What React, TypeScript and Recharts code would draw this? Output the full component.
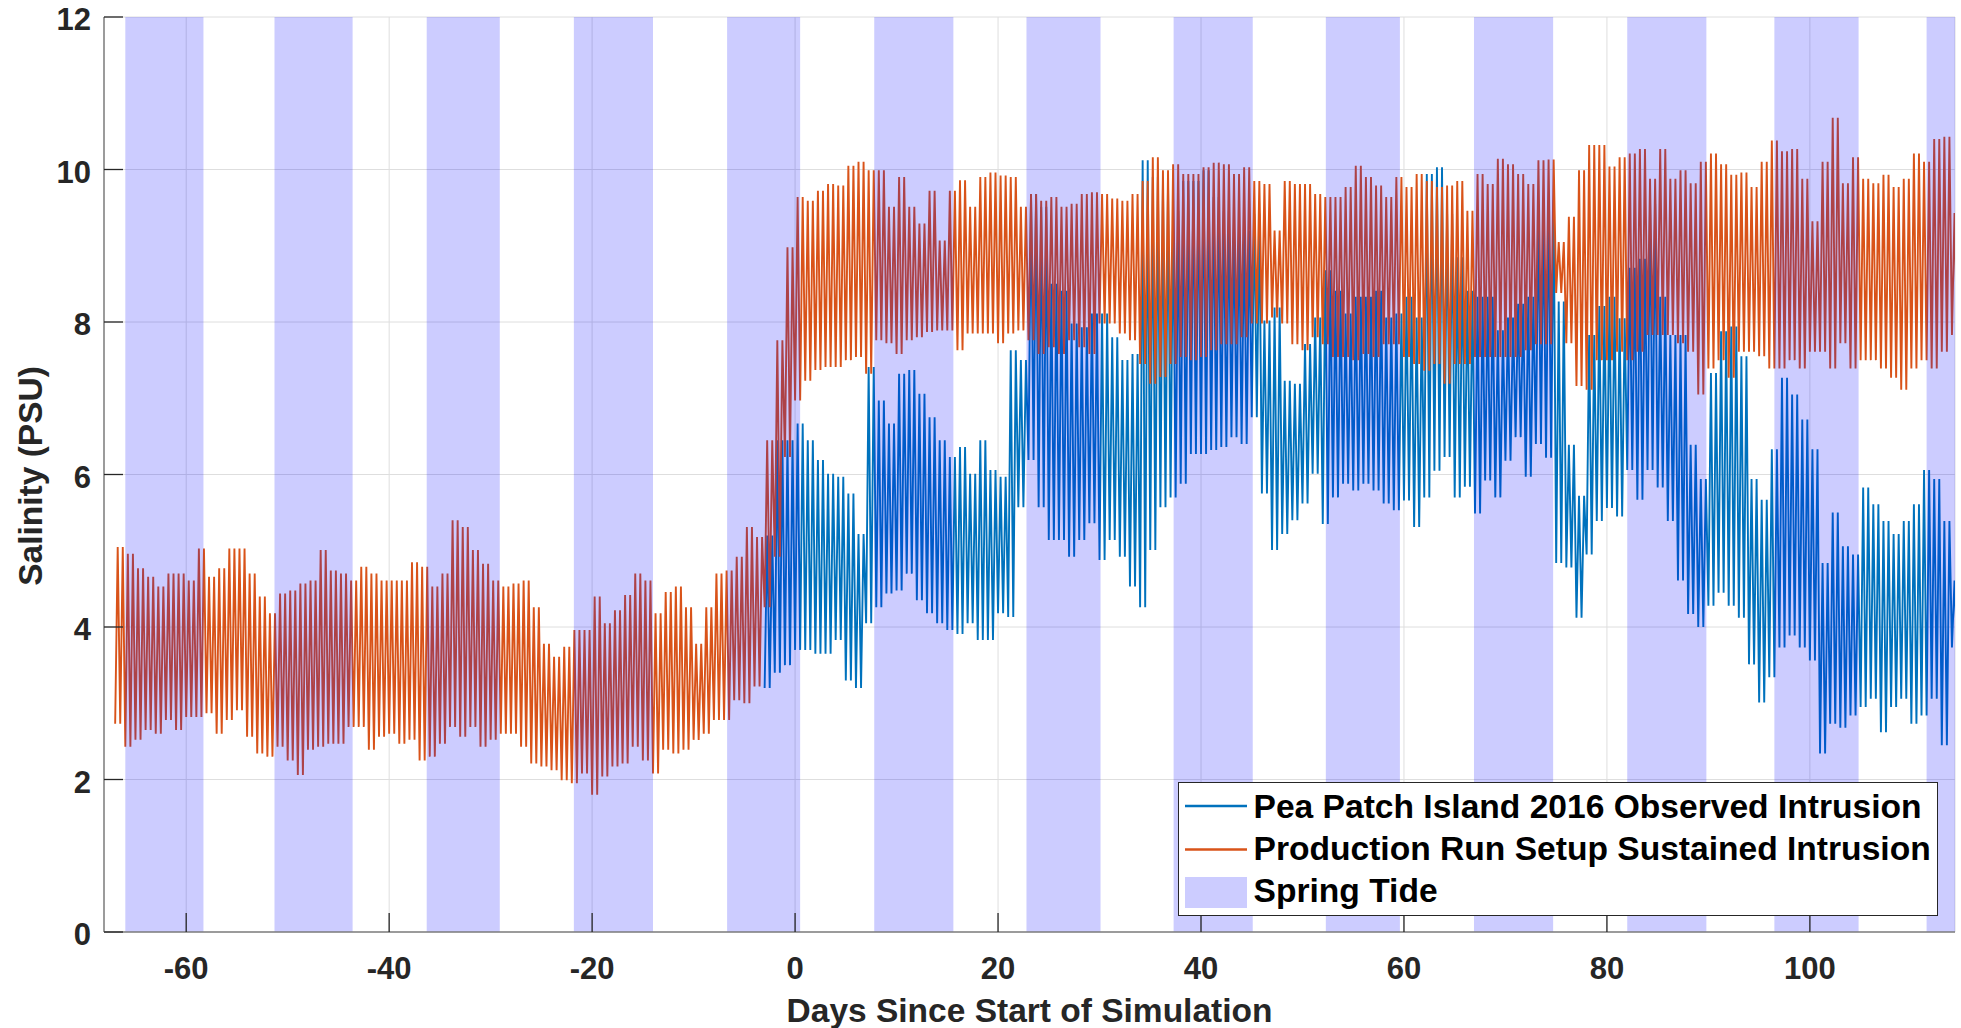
import React from 'react';
import { LineChart, Line, XAxis, YAxis, CartesianGrid, ReferenceArea, Label } from 'recharts';

const FONT = '"Liberation Sans", Arial, Helvetica, sans-serif';

// days since start of simulation, one high / one low per day
const orangeStart = -67;
const orangeHigh = [
  5.05, 4.96, 4.77, 4.66, 4.53, 4.7, 4.7, 4.61, 5.03, 4.66, 4.77, 5.03, 5.03, 4.7, 4.4, 4.18, 4.44, 4.48, 4.57, 4.61,
  5.01, 4.74, 4.7, 4.61, 4.79, 4.7, 4.61, 4.61, 4.61, 4.85, 4.79, 4.53, 4.7, 5.4, 5.31, 5.01, 4.83, 4.61, 4.53, 4.57,
  4.61, 4.26, 3.78, 3.61, 3.74, 3.96, 3.96, 4.4, 4.05, 4.22, 4.42, 4.7, 4.61, 4.18, 4.46, 4.53, 4.26, 3.78, 4.26, 4.7,
  4.74, 4.92, 5.31, 5.18, 6.45, 7.76, 8.98, 9.64, 9.59, 9.72, 9.81, 9.79, 10.05, 10.1, 9.99, 9.99, 9.51, 9.9, 9.51, 9.29,
  9.72, 9.07, 9.72, 9.86, 9.51, 9.9, 9.96, 9.92, 9.9, 9.51, 9.68, 9.59, 9.64, 9.51, 9.55, 9.68, 9.7, 9.68, 9.62, 9.59,
  9.68, 9.85, 10.16, 9.99, 10.07, 9.94, 9.94, 10.03, 10.09, 10.07, 9.94, 10.03, 9.85, 9.81, 9.2, 9.85, 9.81, 9.81, 9.68, 9.64,
  9.64, 9.77, 10.05, 9.9, 9.79, 9.64, 9.9, 9.77, 9.94, 9.85, 9.77, 9.79, 9.85, 9.46, 9.94, 9.81, 10.14, 10.07, 9.94, 9.81,
  10.12, 10.13, 9.05, 9.38, 9.99, 10.32, 10.32, 10.04, 10.16, 10.21, 10.27, 9.88, 10.27, 9.88, 9.99, 9.82, 10.1, 10.21, 10.07, 9.93,
  9.96, 9.77, 10.1, 10.38, 10.24, 10.27, 9.88, 9.32, 10.1, 10.68, 9.82, 10.16, 9.88, 9.82, 9.93, 9.77, 9.88, 10.21, 10.1, 10.4,
  10.43, 9.43,
];
const orangeLow = [
  2.73, 2.43, 2.52, 2.65, 2.6, 2.78, 2.65, 2.82, 2.82, 2.87, 2.6, 2.78, 2.91, 2.56, 2.34, 2.3, 2.43, 2.25, 2.06, 2.39,
  2.43, 2.47, 2.47, 2.69, 2.69, 2.39, 2.56, 2.6, 2.47, 2.52, 2.25, 2.3, 2.47, 2.69, 2.56, 2.69, 2.43, 2.52, 2.6, 2.6,
  2.43, 2.21, 2.17, 2.12, 1.99, 1.95, 2.08, 1.8, 2.04, 2.17, 2.21, 2.43, 2.25, 2.08, 2.39, 2.34, 2.39, 2.52, 2.6, 2.78,
  2.78, 3.04, 3.0, 3.22, 4.26, 4.92, 6.23, 6.97, 7.23, 7.37, 7.41, 7.41, 7.5, 7.54, 7.32, 7.76, 7.72, 7.58, 7.76, 7.8,
  7.87, 7.89, 7.89, 7.63, 7.85, 7.85, 7.85, 7.72, 7.85, 7.89, 7.76, 7.58, 7.67, 7.58, 7.76, 7.67, 7.58, 7.98, 7.98, 7.85,
  7.76, 7.45, 7.19, 7.28, 7.45, 7.54, 7.5, 7.54, 7.63, 7.71, 7.71, 7.8, 7.98, 7.98, 8.06, 7.98, 7.71, 7.63, 7.8, 7.71,
  7.54, 7.54, 7.5, 7.58, 7.54, 7.71, 7.71, 7.54, 7.45, 7.36, 7.45, 7.19, 7.45, 7.45, 7.54, 7.54, 7.54, 7.54, 7.54, 7.63,
  7.71, 7.71, 8.38, 7.72, 7.16, 7.11, 7.5, 7.5, 7.61, 7.5, 7.61, 7.83, 7.83, 7.83, 7.72, 7.61, 7.05, 7.39, 7.5, 7.27,
  7.61, 7.61, 7.55, 7.39, 7.39, 7.5, 7.39, 7.61, 7.61, 7.39, 7.72, 7.39, 7.5, 7.5, 7.39, 7.27, 7.11, 7.39, 7.5, 7.39,
  7.61, 7.83,
];

const blueStart = -3;
const blueHigh = [
  5.2, 6.45, 6.45, 6.67, 6.45, 6.19, 6.01, 5.97, 5.75, 5.22, 7.41, 6.97, 6.67, 7.32, 7.37, 7.06, 6.75, 6.45, 6.23, 6.36,
  6.01, 6.45, 6.06, 5.97, 7.63, 7.5, 9.68, 9.51, 8.5, 8.41, 7.98, 7.93, 8.11, 8.11, 7.8, 7.5, 7.58, 10.12, 9.9, 9.81,
  9.46, 9.85, 9.85, 9.99, 9.64, 9.46, 9.29, 9.2, 9.42, 8.02, 8.19, 7.23, 7.19, 7.71, 8.06, 8.68, 8.41, 8.11, 8.33, 8.33,
  8.41, 8.06, 8.11, 8.33, 8.06, 9.94, 10.03, 9.42, 8.85, 8.41, 8.33, 8.33, 7.89, 8.06, 8.24, 8.33, 9.42, 9.6, 8.27, 6.39,
  5.72, 7.83, 8.21, 8.33, 8.05, 8.71, 8.83, 9.55, 8.33, 7.83, 7.83, 6.39, 5.94, 7.33, 7.88, 7.94, 7.55, 5.94, 5.67, 6.33,
  7.27, 7.05, 6.72, 6.33, 4.84, 5.5, 5.06, 4.95, 5.83, 5.61, 5.39, 5.22, 5.39, 5.61, 6.06, 5.94, 5.39, 4.61,
];
const blueLow = [
  3.2, 3.4, 3.5, 3.7, 3.7, 3.65, 3.65, 3.83, 3.3, 3.2, 4.05, 4.26, 4.44, 4.48, 4.7, 4.35, 4.18, 4.05, 3.96, 3.91,
  4.05, 3.83, 3.83, 4.18, 4.13, 5.57, 6.19, 5.57, 5.14, 5.14, 4.92, 5.14, 5.36, 4.88, 5.14, 4.92, 4.53, 4.26, 5.01, 5.57,
  5.7, 5.88, 6.27, 6.27, 6.32, 6.36, 6.49, 6.4, 6.75, 5.75, 5.01, 5.22, 5.4, 5.62, 6.01, 5.35, 5.7, 5.88, 5.79, 5.88,
  5.79, 5.62, 5.53, 5.66, 5.31, 5.7, 6.05, 6.23, 5.7, 5.84, 5.49, 5.92, 5.7, 6.18, 6.49, 5.97, 6.4, 6.22, 4.84, 4.78,
  4.12, 4.95, 5.39, 5.56, 5.45, 6.06, 5.67, 6.06, 5.83, 5.39, 4.61, 4.17, 4.0, 4.28, 4.45, 4.28, 4.12, 3.51, 3.01, 3.34,
  3.73, 3.89, 3.73, 3.56, 2.34, 2.73, 2.68, 2.84, 2.95, 3.06, 2.62, 2.95, 3.06, 2.73, 2.84, 3.06, 2.45, 3.73,
];

// spring tide windows [start, end] in days
const springTides = [
  [-66.0, -58.3], [-51.3, -43.6], [-36.3, -29.1], [-21.8, -14.0], [-6.7, 0.5], [7.8, 15.6], [22.8, 30.1],
  [37.3, 45.1], [52.3, 59.6], [66.9, 74.7], [82.0, 89.8], [96.5, 104.8], [111.5, 114.3],
];

const xTicks = [-60, -40, -20, 0, 20, 40, 60, 80, 100];
const yTicks = [0, 2, 4, 6, 8, 10, 12];

const legendItems = [
  { label: 'Pea Patch Island 2016 Observed Intrusion', color: '#0072BD', kind: 'line' },
  { label: 'Production Run Setup Sustained Intrusion', color: '#D95319', kind: 'line' },
  { label: 'Spring Tide', color: '#ccccff', kind: 'patch' },
];

// two tidal cycles per day between the day's low and high
function buildSeries(start: number, highs: number[], lows: number[]) {
  const pts: { day: number; v: number }[] = [];
  highs.forEach((h, i) => {
    const d = start + i;
    const l = lows[i];
    pts.push({ day: d, v: l }, { day: d + 0.25, v: h }, { day: d + 0.5, v: l }, { day: d + 0.75, v: h });
  });
  return pts;
}

const blueData = buildSeries(blueStart, blueHigh, blueLow);
const orangeData = buildSeries(orangeStart, orangeHigh, orangeLow);

const XTick = (props: any) => {
  const { x, y, payload } = props;
  return (
    <g>
      <line x1={x} x2={x} y1={y} y2={y - 19} stroke="#262626" strokeWidth={1.3} />
      <text x={x} y={y + 47} textAnchor="middle" fontSize={31} fontWeight="bold" fill="#262626" fontFamily={FONT}>
        {payload.value}
      </text>
    </g>
  );
};

const YTick = (props: any) => {
  const { x, y, payload } = props;
  return (
    <g>
      <line x1={x} x2={x + 19} y1={y} y2={y} stroke="#262626" strokeWidth={1.3} />
      <text x={x - 13} y={y + 13} textAnchor="end" fontSize={31} fontWeight="bold" fill="#262626" fontFamily={FONT}>
        {payload.value}
      </text>
    </g>
  );
};

const XLabel = (props: any) => {
  const vb = props.viewBox || { x: 104, y: 932, width: 1851 };
  return (
    <text x={vb.x + vb.width / 2} y={vb.y + 90} textAnchor="middle" fontSize={33.5} fontWeight="bold" fill="#262626" fontFamily={FONT}>
      Days Since Start of Simulation
    </text>
  );
};

const YLabel = () => (
  <text
    x={42}
    y={476}
    transform="rotate(-90 42 476)"
    textAnchor="middle"
    fontSize={33.5}
    fontWeight="bold"
    fill="#262626"
    fontFamily={FONT}
  >
    Salinity (PSU)
  </text>
);

const ChartLegend = () => (
  <div
    style={{
      position: 'absolute',
      left: 1178,
      top: 782,
      width: 760,
      height: 134,
      boxSizing: 'border-box',
      border: '1.3px solid #262626',
      background: '#fff',
    }}
  >
    <svg width={760} height={134} style={{ position: 'absolute', left: -1.3, top: -1.3 }}>
      {legendItems.map((item, i) =>
        item.kind === 'line' ? (
          <line key={i} x1={7} x2={69} y1={24 + i * 43.5} y2={24 + i * 43.5} stroke={item.color} strokeWidth={2.5} />
        ) : (
          <rect key={i} x={7} y={95} width={62} height={31} fill={item.color} />
        )
      )}
      {legendItems.map((item, i) => (
        <text key={'t' + i} x={75.5} y={36 + i * 42} fontSize={33.6} fontWeight="bold" fill="#000" fontFamily={FONT}>
          {item.label}
        </text>
      ))}
    </svg>
  </div>
);

export default function App() {
  return (
    <div style={{ position: 'absolute', left: 0, top: 0, width: 1961, height: 1028, background: '#fff' }}>
      <LineChart width={1961} height={1028} margin={{ top: 17, right: 6, bottom: 0, left: 0 }}>
        <CartesianGrid stroke="#dedede" strokeWidth={1} />
        <XAxis
          dataKey="day"
          type="number"
          domain={[-68.1, 114.3]}
          allowDataOverflow
          ticks={xTicks}
          height={96}
          tickSize={0}
          tickMargin={0}
          tickLine={false}
          axisLine={{ stroke: '#7f7f7f', strokeWidth: 1.5 }}
          tick={<XTick />}
          interval={0}
        >
          <Label content={<XLabel />} />
        </XAxis>
        <YAxis
          type="number"
          domain={[0, 12]}
          ticks={yTicks}
          width={104}
          tickSize={0}
          tickMargin={0}
          tickLine={false}
          axisLine={{ stroke: '#7f7f7f', strokeWidth: 1.5 }}
          tick={<YTick />}
          interval={0}
        >
          <Label content={<YLabel />} />
        </YAxis>
        <Line
          data={blueData}
          dataKey="v"
          type="linear"
          stroke="#0072BD"
          strokeWidth={1.9}
          dot={false}
          activeDot={false}
          isAnimationActive={false}
          name="Pea Patch Island 2016 Observed Intrusion"
        />
        <Line
          data={orangeData}
          dataKey="v"
          type="linear"
          stroke="#D95319"
          strokeWidth={1.9}
          dot={false}
          activeDot={false}
          isAnimationActive={false}
          name="Production Run Setup Sustained Intrusion"
        />
        {springTides.map(([a, b], i) => (
          <ReferenceArea
            key={i}
            x1={a}
            x2={b}
            y1={0}
            y2={12}
            fill="#0000ff"
            fillOpacity={0.2}
            stroke="none"
            ifOverflow="hidden"
            zIndex={450}
          />
        ))}
      </LineChart>
      <ChartLegend />
    </div>
  );
}
